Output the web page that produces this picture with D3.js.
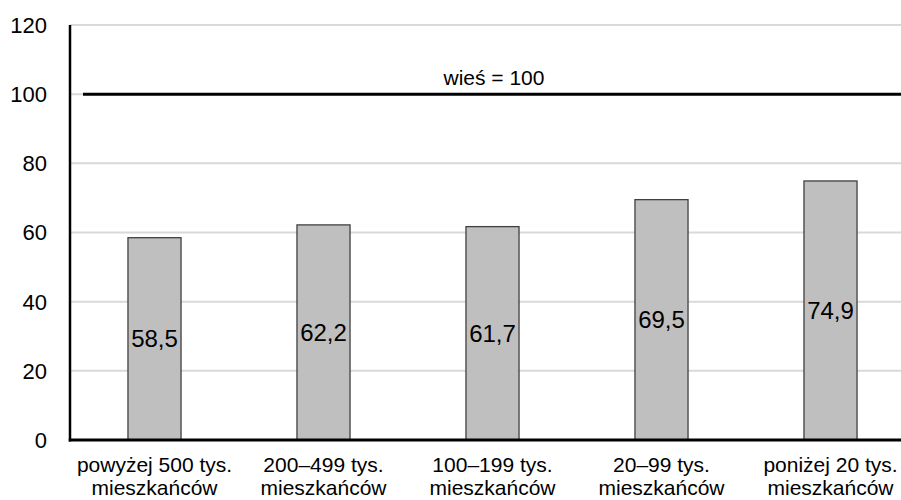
<!DOCTYPE html>
<html><head><meta charset="utf-8">
<script src="https://cdn.jsdelivr.net/npm/d3@7"></script>
<style>body{margin:0;background:#fff}svg{display:block}text{font-family:"Liberation Sans",Arial,sans-serif}</style>
</head><body>
<svg id="c" width="901" height="500"></svg>
<script>
const categories = [["powyżej 500 tys.","mieszkańców"],["200–499 tys.","mieszkańców"],["100–199 tys.","mieszkańców"],["20–99 tys.","mieszkańców"],["poniżej 20 tys.","mieszkańców"]];
const values = [58.5, 62.2, 61.7, 69.5, 74.9];
const valueLabels = ["58,5","62,2","61,7","69,5","74,9"];
const yTicks = [0,20,40,60,80,100,120];
const refValue = 100;
const refLabel = "wieś = 100";

const svg = d3.select("#c");
const x = d3.scaleBand().domain(d3.range(categories.length)).range([70, 915]).paddingInner(0.686).paddingOuter(0.343);
const y = d3.scaleLinear().domain([0,120]).range([440, 25]);

// gridlines
svg.append("g").selectAll("line").data(yTicks.filter(d=>d>0)).join("line")
  .attr("x1",70).attr("x2",901).attr("y1",d=>y(d)).attr("y2",d=>y(d))
  .attr("stroke","#d9d9d9").attr("stroke-width",2);

// tick labels
svg.append("g").selectAll("text").data(yTicks).join("text")
  .attr("x",47).attr("y",d=>y(d)).attr("dy","0.36em").attr("text-anchor","end")
  .attr("font-size",22).attr("fill","#000").text(d=>d);

// bars
svg.append("g").selectAll("rect").data(values).join("rect")
  .attr("x",(d,i)=>x(i)).attr("width",x.bandwidth())
  .attr("y",d=>y(d)).attr("height",d=>y(0)-y(d))
  .attr("fill","#bfbfbf").attr("stroke","#404040").attr("stroke-width",1.3);

// value labels
svg.append("g").selectAll("text").data(values).join("text")
  .attr("x",(d,i)=>x(i)+x.bandwidth()/2).attr("y",d=>y(d/2)).attr("dy","0.36em")
  .attr("text-anchor","middle").attr("font-size",24).attr("fill","#000")
  .text((d,i)=>valueLabels[i]);

// reference line
svg.append("line").attr("x1",83).attr("x2",901).attr("y1",y(refValue)).attr("y2",y(refValue))
  .attr("stroke","#000").attr("stroke-width",3);
svg.append("text").attr("x",494).attr("y",85)
  .attr("text-anchor","middle").attr("font-size",21).text(refLabel);

// axes
svg.append("line").attr("x1",70).attr("x2",70).attr("y1",y(120)).attr("y2",y(0)+1.5)
  .attr("stroke","#000").attr("stroke-width",2.5);
svg.append("line").attr("x1",68.75).attr("x2",901).attr("y1",y(0)).attr("y2",y(0))
  .attr("stroke","#000").attr("stroke-width",3);

// category labels
const cg = svg.append("g").selectAll("text").data(categories).join("text")
  .attr("text-anchor","middle").attr("font-size",21).attr("fill","#000");
cg.each(function(d,i){
  const t = d3.select(this);
  d.forEach((line,j)=>{
    t.append("tspan").attr("x",x(i)+x.bandwidth()/2).attr("y",472+j*23).text(line);
  });
});
</script>
</body></html>
